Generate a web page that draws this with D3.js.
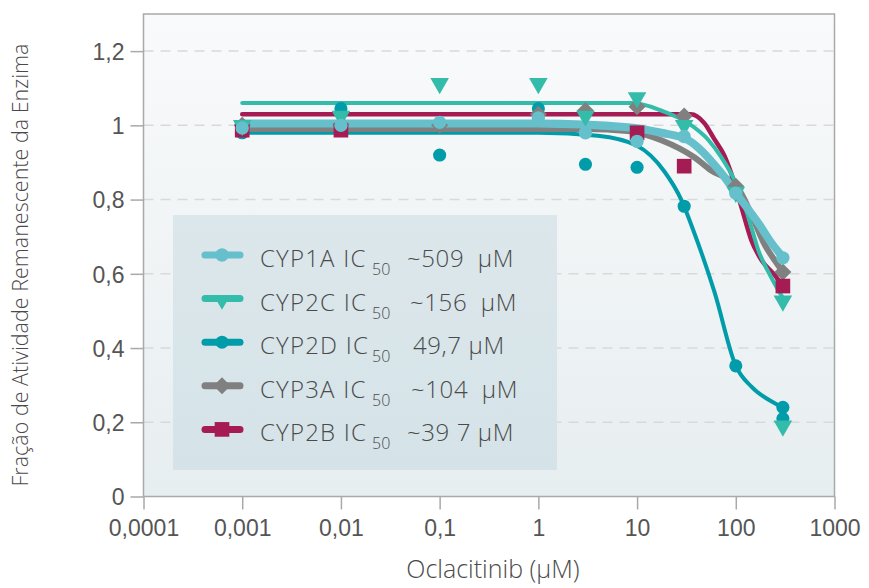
<!DOCTYPE html>
<html>
<head>
<meta charset="utf-8">
<script src="https://cdn.jsdelivr.net/npm/d3@7"></script>
<style>
  html, body { margin: 0; padding: 0; background: #fff; }
  svg { display: block; font-family: "Open Sans", Lato, sans-serif; font-weight: 300; }
  .tick text { fill: #555; font-size: 23px; }
  .legend text { fill: #4a4a4a; white-space: pre; }
</style>
</head>
<body>
<svg id="chart" width="869" height="588"></svg>
<script>
// concentrations (µM) and tick labels
const xTicks = [0.0001, 0.001, 0.01, 0.1, 1, 10, 100, 1000];
const xTickLabels = ["0,0001", "0,001", "0,01", "0,1", "1", "10", "100", "1000"];
const yTicks = [0, 0.2, 0.4, 0.6, 0.8, 1, 1.2];
const yTickLabels = ["0", "0,2", "0,4", "0,6", "0,8", "1", "1,2"];

// measured points, [concentration, fraction]
const cyp1aPoints = [[0.001, 0.993], [0.01, 1.0], [0.1, 1.008], [1, 1.02], [3, 0.98], [10, 0.957], [30, 0.97], [100, 0.817], [300, 0.643]];
const cyp2cPoints = [[0.001, 1.0], [0.01, 1.025], [0.1, 1.113], [1, 1.113], [3, 1.025], [10, 1.075], [30, 1.0], [100, 0.82], [300, 0.527], [300, 0.19]];
const cyp2dPoints = [[0.001, 0.98], [0.01, 1.045], [0.1, 0.92], [1, 1.045], [3, 0.895], [10, 0.887], [30, 0.782], [100, 0.352], [300, 0.24], [300, 0.21]];
const cyp3aPoints = [[0.001, 1.0], [0.01, 1.0], [0.1, 1.0], [1, 1.03], [3, 1.04], [10, 1.05], [30, 1.025], [100, 0.836], [300, 0.605]];
const cyp2bPoints = [[0.001, 0.987], [0.01, 0.987], [10, 0.98], [30, 0.89], [300, 0.567]];

// fitted curves
const cyp1aCurve = [[0.001, 1.005], [1, 1.005], [8, 0.995], [17.6, 0.98], [33, 0.96], [71, 0.872], [100, 0.818], [169, 0.737], [230, 0.683], [300, 0.645]];
const cyp2cCurve = [[0.001, 1.06], [9, 1.06], [17.6, 1.04], [33, 1.006], [53, 0.96], [71, 0.915], [97, 0.852], [134, 0.753], [169, 0.664], [229, 0.59], [300, 0.535]];
const cyp2dCurve = [[0.001, 0.98], [1, 0.98], [4, 0.972], [10, 0.945], [19, 0.875], [28, 0.8], [38, 0.71], [61, 0.55], [100, 0.352], [144, 0.296], [246, 0.252], [300, 0.24]];
const cyp3aCurve = [[0.001, 0.99], [3, 0.99], [8, 0.985], [17.6, 0.96], [38, 0.914], [56, 0.879], [103, 0.835], [144, 0.76], [195, 0.68], [250, 0.635], [300, 0.605]];
const cyp2bCurve = [[0.001, 1.03], [35, 1.03], [48, 1.006], [60, 0.965], [76, 0.92], [90, 0.87], [114, 0.78], [144, 0.69], [182, 0.637], [247, 0.597], [300, 0.567]];

const names = ["CYP1A", "CYP2C", "CYP2D", "CYP3A", "CYP2B"];
const ic50Labels = ["~509  μM", "~156  μM", "49,7 μM", "~104  μM", "~39 7 μM"];
const ic50Offsets = [0, 3, 6, 4, 0];

const series = [
  {name: "CYP2D", points: cyp2dPoints, curve: cyp2dCurve, color: "#009ca9", width: 4, shape: d3.symbolCircle, size: 135, rot: 0},
  {name: "CYP3A", points: cyp3aPoints, curve: cyp3aCurve, color: "#808080", width: 6, shape: d3.symbolSquare, size: 145, rot: 45},
  {name: "CYP2B", points: cyp2bPoints, curve: cyp2bCurve, color: "#a51b53", width: 4.5, shape: d3.symbolSquare, size: 215, rot: 0},
  {name: "CYP2C", points: cyp2cPoints, curve: cyp2cCurve, color: "#34bcaa", width: 4, shape: d3.symbolTriangle, size: 150, rot: 180},
  {name: "CYP1A", points: cyp1aPoints, curve: cyp1aCurve, color: "#65c0cb", width: 8, shape: d3.symbolCircle, size: 140, rot: 0}
];

const svg = d3.select("#chart");
const plotLeft = 143.5, plotRight = 834.5, plotTop = 14, plotBottom = 496.5;

const x = d3.scaleLog().domain([0.0001, 1000]).range([plotLeft, plotRight]);
const y = d3.scaleLinear().domain([0, 1.3]).range([plotBottom, plotTop]);

// plot background
const defs = svg.append("defs");
const grad = defs.append("linearGradient").attr("id", "bg").attr("x1", 0).attr("y1", 0).attr("x2", 0).attr("y2", 1);
grad.append("stop").attr("offset", "0%").attr("stop-color", "#f9fafb");
grad.append("stop").attr("offset", "100%").attr("stop-color", "#e7eef0");
const lgrad = defs.append("linearGradient").attr("id", "lg").attr("x1", 0).attr("y1", 0).attr("x2", 0).attr("y2", 1);
lgrad.append("stop").attr("offset", "0%").attr("stop-color", "#dce7eb");
lgrad.append("stop").attr("offset", "100%").attr("stop-color", "#d5e3e8");

svg.append("rect")
  .attr("x", plotLeft).attr("y", plotTop)
  .attr("width", plotRight - plotLeft).attr("height", plotBottom - plotTop)
  .attr("fill", "url(#bg)");

// grid
svg.append("g")
  .selectAll("line")
  .data(yTicks.filter(d => d > 0))
  .join("line")
  .attr("x1", plotLeft).attr("x2", plotRight)
  .attr("y1", d => y(d)).attr("y2", d => y(d))
  .attr("stroke", "#d9d9d9")
  .attr("stroke-width", 1.5)
  .attr("stroke-dasharray", "10,7");

// legend box
svg.append("rect")
  .attr("x", 173).attr("y", 215)
  .attr("width", 384).attr("height", 255)
  .attr("fill", "url(#lg)");

// frame
svg.append("rect")
  .attr("x", plotLeft).attr("y", plotTop)
  .attr("width", plotRight - plotLeft).attr("height", plotBottom - plotTop)
  .attr("fill", "none")
  .attr("stroke", "#a9a9a9")
  .attr("stroke-width", 1.5);

// axes
const xAxis = d3.axisBottom(x)
  .tickValues(xTicks)
  .tickFormat((d, i) => xTickLabels[i])
  .tickSize(13)
  .tickPadding(10);
const yAxis = d3.axisLeft(y)
  .tickValues(yTicks)
  .tickFormat((d, i) => yTickLabels[i])
  .tickSize(13)
  .tickPadding(6);

const gx = svg.append("g").attr("transform", `translate(0,${plotBottom})`).call(xAxis);
const gy = svg.append("g").attr("transform", `translate(${plotLeft},0)`).call(yAxis);
[gx, gy].forEach(g => {
  g.select(".domain").remove();
  g.selectAll(".tick line").attr("stroke", "#a9a9a9").attr("stroke-width", 1.5);
  g.selectAll(".tick text").attr("font-family", null).attr("font-size", null);
});
gy.selectAll(".tick text").attr("dy", "0.36em");

svg.append("text")
  .attr("x", 493).attr("y", 578)
  .attr("text-anchor", "middle")
  .attr("fill", "#4a4a4a")
  .attr("font-size", 25)
  .text("Oclacitinib (μM)");

svg.append("text")
  .attr("transform", "translate(28,265) rotate(-90)")
  .attr("text-anchor", "middle")
  .attr("fill", "#4a4a4a")
  .attr("font-size", 21.5)
  .text("Fração de Atividade Remanescente da Enzima");

// curves
const line = d3.line()
  .x(d => x(d[0]))
  .y(d => y(d[1]))
  .curve(d3.curveMonotoneX);

const plot = svg.append("g");
series.forEach(s => {
  plot.append("path")
    .datum(s.curve)
    .attr("d", line)
    .attr("fill", "none")
    .attr("stroke", s.color)
    .attr("stroke-width", s.width)
    .attr("stroke-linecap", "round");
});

// markers
series.forEach(s => {
  plot.append("g")
    .selectAll("path")
    .data(s.points)
    .join("path")
    .attr("d", d3.symbol().type(s.shape).size(s.size))
    .attr("transform", d => `translate(${x(d[0])},${y(d[1])}) rotate(${s.rot})`)
    .attr("fill", s.color);
});

// legend
const byName = {};
series.forEach(s => byName[s.name] = s);
const legend = svg.append("g").attr("class", "legend");
names.forEach((n, i) => {
  const s = byName[n];
  const base = 267 + i * 43.6;
  const row = legend.append("g");
  row.append("line")
    .attr("x1", 205).attr("x2", 240)
    .attr("y1", base - 12).attr("y2", base - 12)
    .attr("stroke", s.color)
    .attr("stroke-width", 7)
    .attr("stroke-linecap", "round");
  row.append("path")
    .attr("d", d3.symbol().type(s.shape).size(n === "CYP2C" ? 110 : s.size))
    .attr("transform", `translate(222,${base - 12 + (n === "CYP2C" ? 2 : 0)}) rotate(${s.rot})`)
    .attr("fill", s.color);
  row.append("text")
    .attr("x", 260).attr("y", base)
    .attr("font-size", 24)
    .attr("letter-spacing", 1.2)
    .text(n + " IC");
  row.append("text")
    .attr("x", 372).attr("y", base + 8)
    .attr("font-size", 16)
    .text("50");
  row.append("text")
    .attr("x", 407 + ic50Offsets[i]).attr("y", base)
    .attr("font-size", 24)
    .attr("letter-spacing", 0.6)
    .text(ic50Labels[i]);
});
</script>
</body>
</html>
